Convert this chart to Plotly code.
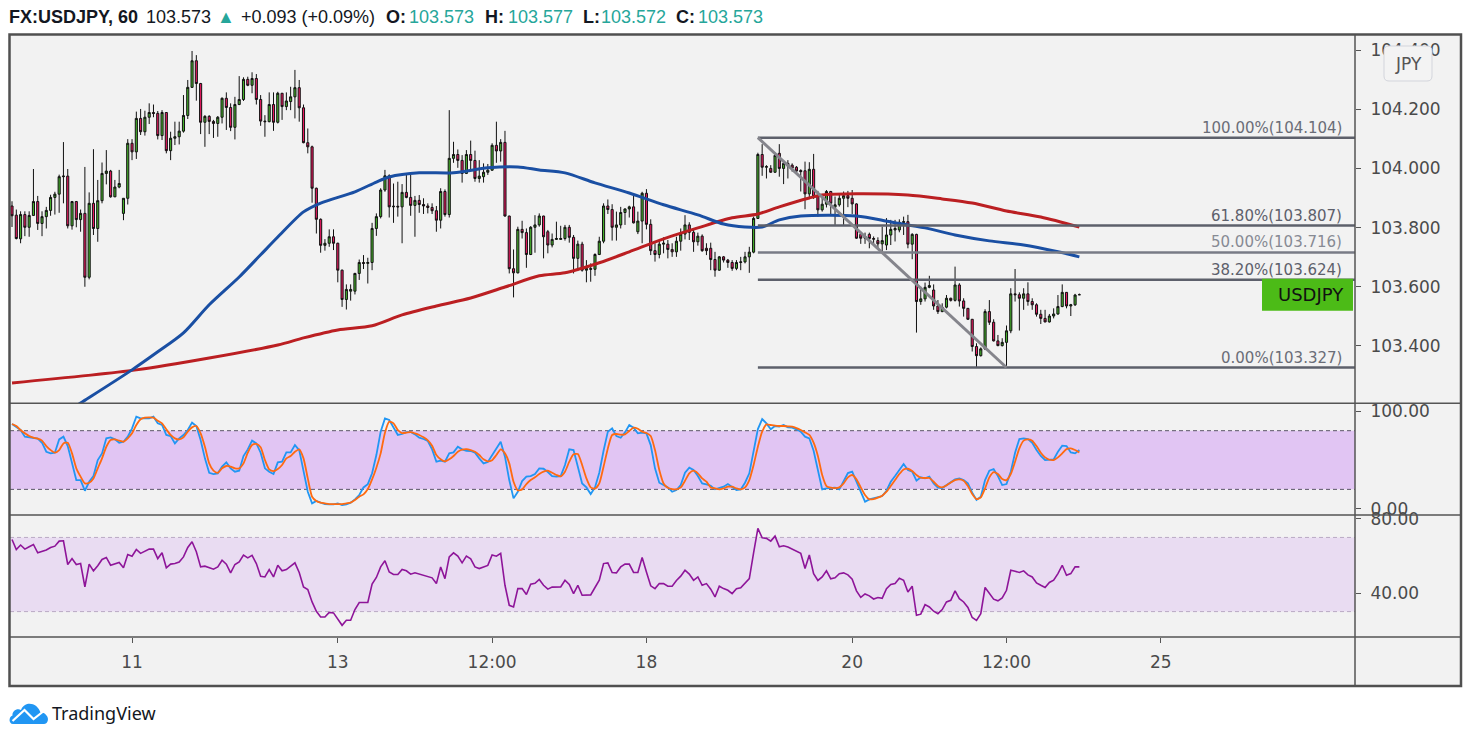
import plotly.graph_objects as go

# ---------------- data ----------------
opens = [
    103.873, 103.842, 103.762, 103.844, 103.801, 103.841, 103.888, 103.814, 103.837, 103.858,
    103.902, 103.913, 103.972, 103.974, 103.806, 103.888, 103.827, 103.848, 103.632, 103.882,
    103.797, 103.891, 103.983, 103.991, 103.904, 103.937, 103.848, 103.899, 104.085, 104.056,
    104.169, 104.124, 104.173, 104.189, 104.186, 104.111, 104.189, 104.060, 104.102, 104.107,
    104.126, 104.179, 104.274, 104.364, 104.287, 104.156, 104.176, 104.159, 104.152, 104.173,
    104.237, 104.206, 104.139, 104.216, 104.233, 104.301, 104.281, 104.304, 104.233, 104.160,
    104.158, 104.216, 104.156, 104.254, 104.209, 104.226, 104.242, 104.273, 104.205, 104.087,
    104.073, 103.933, 103.828, 103.740, 103.747, 103.769, 103.747, 103.656, 103.557, 103.585,
    103.585, 103.645, 103.682, 103.679, 103.682, 103.797, 103.837, 103.927, 103.975, 103.870,
    103.872, 103.870, 103.919, 103.902, 103.875, 103.892, 103.878, 103.873, 103.868, 103.857,
    103.825, 103.922, 103.844, 104.034, 104.047, 104.027, 103.983, 104.047, 104.027, 103.966,
    103.972, 103.987, 103.994, 104.078, 104.059, 104.088, 103.839, 103.661, 103.647, 103.794,
    103.783, 103.709, 103.801, 103.809, 103.839, 103.786, 103.741, 103.760, 103.760, 103.763,
    103.801, 103.767, 103.696, 103.744, 103.656, 103.662, 103.659, 103.709, 103.754, 103.873,
    103.861, 103.801, 103.809, 103.851, 103.863, 103.870, 103.786, 103.822, 103.916, 103.811,
    103.722, 103.709, 103.744, 103.744, 103.726, 103.718, 103.754, 103.778, 103.809, 103.784,
    103.752, 103.771, 103.730, 103.730, 103.692, 103.656, 103.701, 103.690, 103.682, 103.662,
    103.682, 103.684, 103.701, 103.717, 103.831, 104.047, 104.004, 104.000, 103.987, 104.051,
    104.000, 104.017, 104.011, 104.004, 103.993, 103.992, 103.914, 103.997, 103.905, 103.860,
    103.879, 103.922, 103.869, 103.877, 103.899, 103.908, 103.899, 103.880, 103.777, 103.764,
    103.777, 103.763, 103.756, 103.745, 103.741, 103.775, 103.792, 103.792, 103.817, 103.820,
    103.744, 103.777, 103.550, 103.559, 103.598, 103.589, 103.535, 103.516, 103.531, 103.561,
    103.554, 103.606, 103.552, 103.527, 103.490, 103.398, 103.367, 103.390, 103.516, 103.480,
    103.417, 103.401, 103.412, 103.451, 103.576, 103.573, 103.561, 103.576, 103.550, 103.539,
    103.507, 103.493, 103.481, 103.501, 103.508, 103.533, 103.581, 103.535, 103.539, 103.573,
]
highs = [
    103.889, 103.861, 103.855, 103.855, 103.855, 103.998, 103.907, 103.855, 103.870, 103.911,
    103.921, 103.979, 104.089, 103.998, 103.890, 103.890, 103.861, 104.005, 103.919, 104.065,
    103.961, 104.020, 104.062, 103.995, 103.961, 103.995, 103.900, 104.099, 104.099, 104.192,
    104.201, 104.195, 104.220, 104.216, 104.194, 104.197, 104.190, 104.124, 104.158, 104.158,
    104.248, 104.299, 104.397, 104.383, 104.289, 104.180, 104.180, 104.164, 104.177, 104.240,
    104.257, 104.220, 104.242, 104.312, 104.308, 104.310, 104.325, 104.319, 104.248, 104.180,
    104.257, 104.257, 104.259, 104.255, 104.257, 104.276, 104.333, 104.299, 104.216, 104.135,
    104.077, 103.935, 103.831, 103.761, 103.794, 103.794, 103.749, 103.658, 103.608, 103.608,
    103.647, 103.692, 103.707, 103.698, 103.816, 103.848, 103.933, 103.995, 103.980, 103.949,
    103.955, 103.947, 103.978, 103.978, 103.907, 103.910, 103.899, 103.882, 103.882, 103.873,
    103.933, 103.929, 104.197, 104.090, 104.064, 104.045, 104.062, 104.094, 104.060, 104.028,
    104.017, 104.015, 104.085, 104.158, 104.099, 104.127, 103.840, 103.726, 103.803, 103.823,
    103.797, 103.805, 103.842, 103.848, 103.840, 103.792, 103.780, 103.820, 103.806, 103.809,
    103.809, 103.775, 103.756, 103.752, 103.690, 103.679, 103.713, 103.769, 103.882, 103.895,
    103.879, 103.854, 103.870, 103.865, 103.874, 103.910, 103.854, 103.921, 103.930, 103.828,
    103.747, 103.758, 103.767, 103.758, 103.747, 103.769, 103.797, 103.842, 103.818, 103.797,
    103.783, 103.777, 103.747, 103.749, 103.718, 103.704, 103.704, 103.694, 103.690, 103.690,
    103.701, 103.718, 103.735, 103.837, 104.053, 104.082, 104.011, 104.011, 104.053, 104.082,
    104.028, 104.028, 104.017, 104.008, 103.997, 104.023, 104.021, 104.049, 103.924, 103.914,
    103.927, 103.924, 103.905, 103.910, 103.922, 103.924, 103.927, 103.882, 103.783, 103.783,
    103.783, 103.770, 103.767, 103.803, 103.832, 103.826, 103.826, 103.828, 103.837, 103.843,
    103.781, 103.779, 103.600, 103.614, 103.637, 103.608, 103.555, 103.544, 103.572, 103.563,
    103.668, 103.612, 103.561, 103.528, 103.491, 103.409, 103.395, 103.524, 103.555, 103.490,
    103.437, 103.426, 103.469, 103.595, 103.660, 103.581, 103.595, 103.615, 103.561, 103.544,
    103.522, 103.522, 103.508, 103.527, 103.572, 103.608, 103.582, 103.542, 103.576, 103.577,
]
lows = [
    103.802, 103.760, 103.747, 103.771, 103.769, 103.839, 103.792, 103.771, 103.797, 103.840,
    103.844, 103.850, 103.882, 103.797, 103.793, 103.801, 103.786, 103.600, 103.625, 103.775,
    103.752, 103.882, 103.946, 103.901, 103.903, 103.933, 103.825, 103.878, 104.028, 104.032,
    104.113, 104.111, 104.150, 104.173, 104.098, 104.096, 104.051, 104.028, 104.079, 104.081,
    104.121, 104.167, 104.272, 104.229, 104.116, 104.073, 104.116, 104.103, 104.107, 104.152,
    104.130, 104.126, 104.098, 104.214, 104.228, 104.278, 104.254, 104.216, 104.144, 104.107,
    104.156, 104.127, 104.152, 104.164, 104.197, 104.197, 104.169, 104.158, 104.085, 104.051,
    103.884, 103.780, 103.715, 103.722, 103.735, 103.724, 103.615, 103.532, 103.523, 103.553,
    103.574, 103.623, 103.660, 103.611, 103.656, 103.772, 103.831, 103.921, 103.834, 103.816,
    103.837, 103.747, 103.899, 103.840, 103.769, 103.850, 103.846, 103.848, 103.846, 103.786,
    103.797, 103.837, 103.834, 104.019, 104.002, 103.952, 103.981, 103.995, 103.955, 103.952,
    103.952, 103.978, 103.992, 104.019, 104.023, 103.837, 103.645, 103.564, 103.645, 103.763,
    103.664, 103.707, 103.715, 103.803, 103.696, 103.713, 103.733, 103.758, 103.758, 103.756,
    103.749, 103.645, 103.653, 103.651, 103.615, 103.617, 103.637, 103.707, 103.747, 103.846,
    103.756, 103.756, 103.797, 103.809, 103.834, 103.814, 103.778, 103.747, 103.794, 103.707,
    103.685, 103.696, 103.713, 103.696, 103.701, 103.701, 103.722, 103.760, 103.758, 103.718,
    103.739, 103.718, 103.707, 103.656, 103.634, 103.654, 103.682, 103.664, 103.654, 103.656,
    103.656, 103.679, 103.647, 103.713, 103.829, 103.975, 103.966, 103.985, 103.985, 103.972,
    103.947, 103.966, 103.989, 103.983, 103.922, 103.862, 103.903, 103.897, 103.837, 103.854,
    103.868, 103.839, 103.809, 103.871, 103.809, 103.869, 103.846, 103.762, 103.745, 103.745,
    103.730, 103.744, 103.730, 103.719, 103.724, 103.741, 103.753, 103.784, 103.775, 103.730,
    103.693, 103.445, 103.539, 103.550, 103.595, 103.522, 103.508, 103.514, 103.527, 103.550,
    103.550, 103.533, 103.499, 103.488, 103.381, 103.328, 103.364, 103.386, 103.471, 103.415,
    103.399, 103.398, 103.328, 103.443, 103.550, 103.452, 103.522, 103.536, 103.522, 103.499,
    103.474, 103.480, 103.479, 103.493, 103.505, 103.531, 103.527, 103.501, 103.535, 103.572,
]
closes = [
    103.840, 103.763, 103.844, 103.801, 103.841, 103.888, 103.814, 103.837, 103.858, 103.902,
    103.913, 103.972, 103.974, 103.806, 103.888, 103.827, 103.848, 103.632, 103.882, 103.797,
    103.891, 103.983, 103.991, 103.904, 103.937, 103.949, 103.899, 104.085, 104.056, 104.169,
    104.124, 104.173, 104.189, 104.186, 104.111, 104.189, 104.060, 104.102, 104.107, 104.126,
    104.179, 104.274, 104.364, 104.287, 104.156, 104.176, 104.159, 104.152, 104.173, 104.237,
    104.206, 104.139, 104.216, 104.233, 104.301, 104.281, 104.304, 104.233, 104.160, 104.158,
    104.216, 104.156, 104.254, 104.209, 104.228, 104.242, 104.273, 104.205, 104.087, 104.073,
    103.933, 103.828, 103.740, 103.747, 103.769, 103.747, 103.656, 103.557, 103.591, 103.591,
    103.645, 103.682, 103.679, 103.682, 103.797, 103.837, 103.927, 103.975, 103.870, 103.872,
    103.870, 103.919, 103.902, 103.875, 103.892, 103.878, 103.873, 103.868, 103.857, 103.825,
    103.922, 103.844, 104.034, 104.047, 104.027, 103.983, 104.047, 104.027, 103.966, 103.974,
    103.987, 103.994, 104.078, 104.059, 104.088, 103.839, 103.661, 103.647, 103.794, 103.783,
    103.709, 103.801, 103.809, 103.839, 103.769, 103.741, 103.760, 103.763, 103.763, 103.801,
    103.767, 103.696, 103.744, 103.656, 103.662, 103.659, 103.709, 103.754, 103.873, 103.861,
    103.801, 103.809, 103.851, 103.863, 103.870, 103.816, 103.822, 103.916, 103.811, 103.722,
    103.709, 103.744, 103.747, 103.726, 103.718, 103.754, 103.778, 103.809, 103.784, 103.752,
    103.771, 103.722, 103.722, 103.692, 103.656, 103.701, 103.690, 103.682, 103.662, 103.682,
    103.684, 103.701, 103.717, 103.831, 104.047, 104.004, 104.006, 103.987, 104.044, 104.000,
    104.017, 104.008, 104.001, 103.991, 103.989, 103.914, 103.997, 103.905, 103.860, 103.879,
    103.922, 103.882, 103.877, 103.899, 103.908, 103.899, 103.880, 103.764, 103.764, 103.770,
    103.763, 103.761, 103.745, 103.756, 103.775, 103.794, 103.797, 103.818, 103.820, 103.744,
    103.777, 103.550, 103.559, 103.598, 103.604, 103.535, 103.516, 103.531, 103.561, 103.554,
    103.606, 103.552, 103.527, 103.490, 103.398, 103.367, 103.390, 103.516, 103.480, 103.417,
    103.401, 103.412, 103.451, 103.576, 103.573, 103.561, 103.576, 103.550, 103.539, 103.507,
    103.493, 103.481, 103.501, 103.508, 103.533, 103.581, 103.535, 103.539, 103.572, 103.573,
]

# moving averages (bar index, value)
ma_blue_bar = [0, 16, 28, 34, 40, 46, 53, 58, 62, 68, 72, 80, 85, 88, 95, 103, 111, 118, 123,
               129, 136, 144, 152, 160, 166, 171, 175, 179, 184, 197, 205, 213, 220, 228, 236, 244, 249]
ma_blue = [103.060, 103.207, 103.319, 103.380, 103.444, 103.539, 103.633, 103.708, 103.768, 103.853,
           103.883, 103.921, 103.954, 103.971, 103.985, 103.985, 104.002, 104.005, 103.995, 103.985,
           103.951, 103.917, 103.877, 103.843, 103.812, 103.802, 103.802, 103.826, 103.839, 103.839,
           103.819, 103.799, 103.775, 103.755, 103.741, 103.718, 103.701]
ma_red_bar = [0, 29, 46, 62, 68, 76, 84, 91, 99, 107, 115, 123, 129, 137, 144, 152, 160, 168, 174,
              179, 186, 189, 197, 209, 217, 224, 232, 240, 249]
ma_red = [103.275, 103.319, 103.359, 103.403, 103.427, 103.454, 103.468, 103.505, 103.535, 103.562,
          103.599, 103.637, 103.647, 103.681, 103.718, 103.762, 103.799, 103.833, 103.846, 103.870,
          103.900, 103.910, 103.914, 103.910, 103.897, 103.883, 103.856, 103.836, 103.802]

stoch_k = [
    86.8, 84.0, 80.7, 73.9, 73.2, 72.5, 71.8, 67.7, 58.5, 56.8,
    57.5, 71.1, 73.9, 64.3, 46.6, 29.5, 29.5, 18.6, 27.8, 33.6,
    50.0, 56.8, 72.2, 73.2, 71.1, 67.7, 68.7, 73.9, 82.4, 94.3,
    92.6, 92.6, 92.6, 94.3, 87.5, 85.8, 75.6, 74.5, 67.0, 72.2,
    75.6, 80.7, 88.2, 84.8, 70.5, 51.7, 37.0, 35.7, 36.4, 43.2,
    47.6, 41.5, 38.1, 39.1, 54.1, 60.9, 69.8, 67.0, 57.5, 41.5,
    38.1, 35.7, 47.6, 48.3, 57.8, 57.8, 65.3, 60.2, 39.8, 17.6,
    5.7, 8.1, 6.4, 5.0, 4.7, 4.7, 5.7, 4.0, 4.7, 6.4,
    9.8, 14.2, 22.0, 25.4, 36.4, 55.1, 79.0, 92.6, 90.9, 83.4,
    75.6, 76.6, 78.6, 78.6, 76.2, 72.8, 71.5, 69.4, 60.9, 48.3,
    49.3, 48.3, 56.8, 57.8, 63.6, 60.9, 59.5, 59.2, 57.5, 51.7,
    46.6, 48.0, 55.1, 63.0, 68.7, 53.4, 29.5, 10.8, 17.6, 28.5,
    33.0, 33.6, 35.7, 41.5, 41.1, 37.7, 33.6, 33.0, 33.6, 44.9,
    60.9, 60.2, 43.2, 26.1, 22.0, 15.2, 22.0, 37.0, 59.5, 79.0,
    82.4, 74.5, 72.8, 78.3, 85.8, 83.1, 77.3, 78.0, 77.3, 65.3,
    41.5, 26.8, 24.4, 22.0, 17.6, 19.3, 24.4, 37.0, 42.2, 39.8,
    33.6, 26.1, 25.1, 23.7, 20.0, 21.0, 22.7, 25.4, 22.0, 19.3,
    20.0, 26.8, 36.4, 60.9, 81.7, 91.9, 87.5, 81.4, 84.8, 84.1,
    85.8, 83.4, 83.1, 81.4, 79.0, 73.9, 72.2, 59.5, 40.4, 20.0,
    21.0, 21.7, 21.7, 20.0, 28.5, 36.7, 38.1, 27.8, 17.3, 7.4,
    9.8, 10.8, 11.5, 13.2, 18.6, 27.8, 33.6, 40.4, 45.9, 39.8,
    38.1, 28.9, 32.3, 31.2, 33.0, 26.1, 21.7, 21.3, 24.1, 26.8,
    30.2, 31.2, 29.5, 26.1, 16.6, 9.1, 12.5, 29.5, 39.1, 40.8,
    33.6, 24.4, 25.4, 38.1, 57.5, 71.5, 72.2, 71.5, 67.7, 60.2,
    54.1, 50.0, 50.0, 50.7, 58.5, 64.7, 64.3, 57.8, 56.8, 60.2,
]
stoch_d = [
    86.8, 84.8, 80.7, 77.3, 74.5, 72.8, 71.8, 69.8, 64.3, 60.2,
    57.5, 60.2, 67.0, 67.7, 56.8, 41.5, 33.0, 26.1, 26.8, 31.2,
    41.5, 51.7, 63.6, 70.5, 71.1, 69.8, 68.7, 72.2, 77.3, 85.8,
    91.6, 93.3, 93.6, 93.3, 90.2, 87.5, 81.4, 75.6, 72.2, 71.1,
    73.2, 79.0, 83.4, 84.8, 77.3, 63.6, 46.6, 39.1, 37.0, 41.5,
    43.9, 43.2, 41.5, 41.5, 46.6, 57.5, 65.3, 66.4, 63.0, 50.0,
    40.4, 38.7, 40.8, 44.9, 51.7, 54.1, 58.5, 60.9, 51.7, 31.2,
    12.5, 8.1, 6.4, 5.7, 5.0, 5.0, 5.0, 5.0, 5.7, 6.4,
    9.1, 12.5, 14.9, 20.3, 30.2, 42.2, 56.8, 78.0, 89.2, 87.5,
    80.7, 77.6, 78.0, 78.6, 77.3, 75.6, 73.2, 70.1, 64.7, 55.1,
    50.7, 48.6, 50.7, 54.1, 58.5, 60.6, 61.2, 60.2, 58.5, 55.1,
    50.7, 48.6, 49.9, 55.1, 60.9, 56.8, 46.6, 27.8, 19.0, 20.0,
    25.4, 29.5, 32.3, 35.7, 38.1, 39.1, 37.0, 34.7, 33.3, 38.1,
    48.3, 55.8, 56.1, 44.9, 31.2, 22.0, 20.7, 26.1, 43.2, 61.9,
    75.6, 76.6, 75.9, 76.2, 79.7, 83.1, 82.0, 79.0, 77.6, 74.5,
    60.2, 39.8, 26.1, 21.7, 20.3, 20.0, 22.0, 28.8, 36.4, 39.1,
    36.4, 31.2, 27.8, 22.0, 21.0, 20.0, 21.0, 22.7, 22.7, 21.0,
    20.0, 22.0, 29.5, 44.9, 63.6, 79.0, 86.5, 85.8, 85.1, 84.8,
    84.8, 84.4, 84.1, 82.7, 80.7, 78.3, 75.6, 67.7, 54.1, 34.7,
    23.4, 21.7, 21.3, 22.0, 26.1, 32.3, 34.7, 30.2, 22.0, 14.2,
    9.8, 10.1, 11.5, 13.5, 17.6, 23.4, 29.5, 35.7, 40.4, 41.1,
    38.7, 34.7, 31.9, 31.6, 31.6, 27.8, 23.4, 22.0, 24.1, 27.1,
    29.5, 30.2, 28.9, 23.4, 15.2, 10.1, 11.8, 21.0, 32.3, 37.7,
    35.7, 30.6, 29.5, 35.7, 48.3, 61.9, 69.8, 71.1, 69.8, 64.3,
    57.5, 52.7, 50.3, 50.0, 52.7, 56.8, 61.2, 61.9, 60.2, 57.8,
]
rsi = [
    68.9, 63.5, 65.9, 63.7, 65.0, 66.2, 61.7, 62.3, 63.2, 64.6,
    65.3, 68.0, 68.2, 55.4, 58.6, 55.4, 55.9, 43.3, 55.6, 52.0,
    54.7, 58.1, 59.2, 55.0, 55.9, 56.5, 53.6, 60.8, 59.9, 63.5,
    61.4, 62.6, 63.7, 63.7, 58.6, 61.7, 53.6, 55.6, 55.9, 56.7,
    59.5, 64.6, 67.7, 62.3, 54.1, 54.5, 53.6, 52.9, 54.1, 57.7,
    55.6, 50.9, 55.4, 56.8, 60.5, 59.0, 60.3, 55.9, 49.1, 48.7,
    52.7, 48.7, 55.0, 52.0, 52.7, 54.5, 56.3, 51.1, 43.3, 41.9,
    35.2, 30.2, 27.1, 27.1, 29.6, 29.3, 25.7, 22.6, 25.3, 25.3,
    31.1, 34.9, 34.9, 34.9, 44.8, 48.4, 54.1, 57.4, 51.4, 50.0,
    50.0, 52.7, 52.0, 50.2, 50.9, 50.2, 49.6, 49.1, 48.2, 45.1,
    54.1, 47.8, 59.5, 61.7, 59.9, 56.3, 59.9, 58.5, 54.1, 53.2,
    54.1, 54.9, 60.5, 59.9, 61.4, 44.2, 33.4, 32.5, 42.4, 42.4,
    39.2, 44.8, 45.3, 47.3, 44.2, 42.1, 43.2, 43.3, 43.3, 46.9,
    44.6, 39.7, 44.2, 38.8, 38.8, 39.0, 43.0, 46.9, 55.9, 56.3,
    51.1, 50.9, 54.1, 55.6, 55.6, 51.1, 51.1, 59.2, 51.4, 43.9,
    42.4, 45.1, 45.1, 43.7, 43.7, 46.8, 49.1, 52.3, 50.2, 46.9,
    48.7, 44.2, 45.1, 42.1, 37.9, 43.7, 42.4, 41.5, 39.7, 42.3,
    42.8, 45.5, 47.8, 61.7, 74.9, 69.8, 69.5, 68.0, 70.7, 65.0,
    65.5, 64.8, 63.7, 62.3, 61.4, 53.2, 60.5, 50.4, 46.8, 48.7,
    52.0, 47.7, 48.2, 50.4, 50.9, 49.8, 47.5, 41.2, 37.7, 39.5,
    38.5, 36.8, 37.6, 37.2, 42.4, 44.6, 45.1, 48.0, 46.9, 40.6,
    43.7, 28.0, 28.6, 33.8, 32.5, 30.2, 28.9, 31.1, 35.2, 36.1,
    41.2, 37.0, 35.2, 32.2, 26.8, 25.3, 28.9, 43.0, 40.1, 36.7,
    35.8, 37.4, 41.5, 52.3, 51.8, 51.1, 52.0, 49.8, 48.7, 45.5,
    44.2, 43.0, 45.7, 46.9, 50.5, 55.0, 49.6, 50.5, 54.1, 54.1,
]

fib_high = 104.104
fib_low = 103.327
fib_ratios = [1.0, 0.618, 0.5, 0.382, 0.0]
fib_start_bar = 174
fib_low_bar = 232

x_tick_bars = [28, 76, 112, 148, 196, 232, 268]
x_tick_labels = ["11", "13", "12:00", "18", "20", "12:00", "25"]
price_ticks = [103.4, 103.6, 103.8, 104.0, 104.2, 104.4]
stoch_ticks = [0, 100]
rsi_ticks = [40, 80]
stoch_band = [20, 80]
rsi_band = [30, 70]

symbol = "FX:USDJPY, 60"
day_change = "+0.093 (+0.09%)"
pair_label = "USDJPY"
currency = "JPY"

# ---------------- layout geometry (pixels of the 1471x741 window) ----------------
PAGE_OFF = 8                              # default body margin of the html page
W, H = 1471 - PAGE_OFF, 741 - PAGE_OFF    # figure size
PL, PR, PT, PB = 10, 1355, 35, 637        # plot area (window pixels)
FR_R, FR_B = 1461, 686                    # outer frame
Y_PRICE_BOT, Y_STOCH_BOT = 403.3, 515.0
X_MIN, X_MAX = -0.47, 313.3
PRICE_RANGE = [103.206, 104.451]
STOCH_RANGE = [-6.2, 108.0]
RSI_RANGE = [16.3, 82.1]


def px(x):
    return (x - PL) / (PR - PL)


def py(y):
    return (PB - y) / (PB - PT)


bars = list(range(len(closes)))
GREEN = "#45b02b"
RED = "#e8195f"
TICKC = "#4a4a4a"
TEAL = "#26a69a"

fig = go.Figure()

fig.add_trace(go.Candlestick(
    x=bars, open=opens, high=highs, low=lows, close=closes,
    increasing=dict(fillcolor=GREEN, line=dict(color="#111111", width=1)),
    decreasing=dict(fillcolor=RED, line=dict(color="#111111", width=1)),
    whiskerwidth=0, xaxis="x", yaxis="y", hoverinfo="skip"))

fig.add_trace(go.Scatter(x=ma_red_bar, y=ma_red, mode="lines", xaxis="x", yaxis="y",
                         line=dict(color="#bb1f22", width=3, shape="spline", smoothing=0.8),
                         hoverinfo="skip"))
fig.add_trace(go.Scatter(x=ma_blue_bar, y=ma_blue, mode="lines", xaxis="x", yaxis="y",
                         line=dict(color="#1a4fa3", width=3, shape="spline", smoothing=0.8),
                         hoverinfo="skip"))

fig.add_trace(go.Scatter(x=bars, y=stoch_k, mode="lines", xaxis="x", yaxis="y2",
                         line=dict(color="#2196f3", width=1.8), hoverinfo="skip"))
fig.add_trace(go.Scatter(x=bars, y=stoch_d, mode="lines", xaxis="x", yaxis="y2",
                         line=dict(color="#ff6a10", width=1.8, shape="spline", smoothing=0.6),
                         hoverinfo="skip"))
fig.add_trace(go.Scatter(x=bars, y=rsi, mode="lines", xaxis="x", yaxis="y3",
                         line=dict(color="#8e1599", width=1.6), hoverinfo="skip"))

shapes = []
# background of whole chart frame
shapes.append(dict(type="rect", xref="paper", yref="paper", layer="below",
                   x0=px(PL - 0.5), x1=px(FR_R), y0=py(FR_B), y1=py(PT),
                   fillcolor="#f2f2f2", line=dict(width=0)))
# indicator bands
shapes.append(dict(type="rect", xref="paper", yref="y2", layer="below",
                   x0=0, x1=1, y0=stoch_band[0], y1=stoch_band[1],
                   fillcolor="#e1c5f3", line=dict(width=0)))
shapes.append(dict(type="rect", xref="paper", yref="y3", layer="below",
                   x0=0, x1=1, y0=rsi_band[0], y1=rsi_band[1],
                   fillcolor="#e9dcf2", line=dict(width=0)))
for v in stoch_band:
    shapes.append(dict(type="line", xref="paper", yref="y2", layer="below",
                       x0=0, x1=1, y0=v, y1=v,
                       line=dict(color="#5a5466", width=1, dash="4px,3px")))
for v in rsi_band:
    shapes.append(dict(type="line", xref="paper", yref="y3", layer="below",
                       x0=0, x1=1, y0=v, y1=v,
                       line=dict(color="#b9a9c4", width=1, dash="4px,3px")))

# fibonacci retracement
fib_colors = ["#5d606b", "#5d606b", "#787b86", "#5d606b", "#5d606b"]
fib_text_colors = ["#6a6d77", "#5d606b", "#878a94", "#5d606b", "#6a6d77"]
annotations = []
for r, c, tc in zip(fib_ratios, fib_colors, fib_text_colors):
    lvl = round(fib_low + (fib_high - fib_low) * r + 1e-9, 3)
    shapes.append(dict(type="line", xref="x", yref="y", layer="above",
                       x0=fib_start_bar, x1=X_MAX, y0=lvl, y1=lvl,
                       line=dict(color=c, width=2.5)))
    annotations.append(dict(xref="paper", yref="y", x=px(1344), y=lvl,
                            xanchor="right", yanchor="bottom", yshift=-1,
                            text=f"{r * 100:.2f}%({lvl:.3f})", showarrow=False,
                            font=dict(family="DejaVu Sans", size=15, color=tc)))
shapes.append(dict(type="line", xref="x", yref="y", layer="above",
                   x0=fib_start_bar, x1=fib_low_bar, y0=fib_high, y1=fib_low,
                   line=dict(color="#85858c", width=3)))

# last price label
last = closes[-1]
shapes.append(dict(type="rect", xref="paper", yref="y", layer="above",
                   x0=px(1262), x1=px(1353), y0=last - 0.054, y1=last + 0.054,
                   fillcolor="#4cbb17", line=dict(width=0)))
annotations.append(dict(xref="paper", yref="y", x=px(1346), y=last, xanchor="right",
                        yanchor="middle", text=pair_label, showarrow=False,
                        font=dict(family="DejaVu Sans", size=18, color="#111111")))

# separators and frame
for yy in (Y_PRICE_BOT, Y_STOCH_BOT, PB):
    shapes.append(dict(type="line", xref="paper", yref="paper", layer="above",
                       x0=px(PL), x1=px(FR_R), y0=py(yy), y1=py(yy),
                       line=dict(color="#555555", width=1.5)))
shapes.append(dict(type="line", xref="paper", yref="paper", layer="above",
                   x0=px(PR), x1=px(PR), y0=py(FR_B), y1=py(PT),
                   line=dict(color="#555555", width=1.5)))
shapes.append(dict(type="rect", xref="paper", yref="paper", layer="above",
                   x0=px(PL - 0.5), x1=px(FR_R), y0=py(FR_B), y1=py(PT - 0.5),
                   line=dict(color="#505050", width=2.5)))

# currency box (rounded)
bx0, bx1, by0, by1, rr = 1384, 1432, 46, 81, 5
box_path = (f"M{px(bx0 + rr)},{py(by0)} L{px(bx1 - rr)},{py(by0)} "
            f"Q{px(bx1)},{py(by0)} {px(bx1)},{py(by0 + rr)} L{px(bx1)},{py(by1 - rr)} "
            f"Q{px(bx1)},{py(by1)} {px(bx1 - rr)},{py(by1)} L{px(bx0 + rr)},{py(by1)} "
            f"Q{px(bx0)},{py(by1)} {px(bx0)},{py(by1 - rr)} L{px(bx0)},{py(by0 + rr)} "
            f"Q{px(bx0)},{py(by0)} {px(bx0 + rr)},{py(by0)} Z")
shapes.append(dict(type="path", xref="paper", yref="paper", layer="above", path=box_path,
                   fillcolor="#f3f3f3", line=dict(color="#d3d5dc", width=1)))
annotations.append(dict(xref="paper", yref="paper", x=px((bx0 + bx1) / 2), y=py((by0 + by1) / 2),
                        xanchor="center", yanchor="middle", text=currency, showarrow=False,
                        font=dict(family="DejaVu Sans", size=17, color="#555555")))


# TradingView logo
def P(x, y):
    return f"{px(x)},{py(y)}"


cloud = (f"M{P(13, 724)} L{P(44, 724)} C{P(47.5, 724)} {P(49.5, 719)} {P(46.5, 715.5)} "
         f"C{P(45, 713)} {P(42.5, 712)} {P(40.5, 712.5)} C{P(38.5, 705)} {P(30, 701.5)} {P(25, 705)} "
         f"C{P(22.5, 706.5)} {P(21.5, 708.5)} {P(21, 710)} C{P(17, 708)} {P(12, 711)} {P(12.5, 715.5)} "
         f"C{P(8.5, 716.5)} {P(8.5, 724)} {P(13, 724)} Z")
shapes.append(dict(type="path", xref="paper", yref="paper", layer="above", path=cloud,
                   fillcolor="#2196f3", line=dict(width=0)))
shapes.append(dict(type="path", xref="paper", yref="paper", layer="above",
                   path=f"M{P(12.5, 721)} L{P(24.5, 710)} L{P(33.5, 719)} L{P(44.5, 710.5)}",
                   line=dict(color="white", width=2.2)))
annotations.append(dict(xref="paper", yref="paper", x=px(50), y=py(713), xanchor="left",
                        yanchor="middle", text="TradingView", showarrow=False,
                        font=dict(family="Noto Sans", size=18, color="#131722")))

# header
hdr_font = "Liberation Sans"
header_items = [
    (f"<b>{symbol}</b>", 8, "#131722"),
    (f"{last:.3f}", 145, "#131722"),
    ("▲", 216, TEAL),
    (day_change, 240, "#131722"),
    ("<b>O:</b>", 385, "#131722"),
    (f"{opens[-1]:.3f}", 408, TEAL),
    ("<b>H:</b>", 484, "#131722"),
    (f"{highs[-1]:.3f}", 507, TEAL),
    ("<b>L:</b>", 582, "#131722"),
    (f"{lows[-1]:.3f}", 600, TEAL),
    ("<b>C:</b>", 675, "#131722"),
    (f"{closes[-1]:.3f}", 697, TEAL),
]
for txt, xx, col in header_items:
    annotations.append(dict(xref="paper", yref="paper", x=px(xx), y=py(17), xanchor="left",
                            yanchor="middle", text=txt, showarrow=False, borderpad=0,
                            font=dict(family=hdr_font, size=18, color=col)))

dom_price = [py(Y_PRICE_BOT), 1]
dom_stoch = [py(Y_STOCH_BOT), py(Y_PRICE_BOT)]
dom_rsi = [0, py(Y_STOCH_BOT)]

yax_common = dict(side="right", anchor="x", showgrid=False, zeroline=False, showline=False,
                  ticks="outside", ticklen=5, tickcolor="#555555", tickwidth=1,
                  ticklabelstandoff=6,
                  tickfont=dict(family="DejaVu Sans", size=17, color=TICKC), fixedrange=True)

fig.update_layout(
    width=W, height=H,
    margin=dict(l=PL - PAGE_OFF, r=W - (PR - PAGE_OFF), t=PT - PAGE_OFF,
                b=H - (PB - PAGE_OFF), pad=0),
    paper_bgcolor="white", plot_bgcolor="rgba(0,0,0,0)",
    showlegend=False, hovermode=False,
    xaxis=dict(domain=[0, 1], range=[X_MIN, X_MAX], anchor="y3",
               tickmode="array", tickvals=x_tick_bars, ticktext=x_tick_labels,
               ticks="outside", ticklen=5, tickcolor="#555555", tickwidth=1,
               ticklabelstandoff=5,
               showgrid=False, zeroline=False, showline=False,
               tickfont=dict(family="DejaVu Sans", size=17, color=TICKC),
               rangeslider=dict(visible=False), fixedrange=True),
    yaxis=dict(domain=dom_price, range=PRICE_RANGE, tickmode="array", tickvals=price_ticks,
               tickformat=".3f", **yax_common),
    yaxis2=dict(domain=dom_stoch, range=STOCH_RANGE, tickmode="array", tickvals=stoch_ticks,
                tickformat=".2f", **yax_common),
    yaxis3=dict(domain=dom_rsi, range=RSI_RANGE, tickmode="array", tickvals=rsi_ticks,
                tickformat=".2f", **yax_common),
    shapes=shapes,
    annotations=annotations,
)

fig.write_html("out.html")
